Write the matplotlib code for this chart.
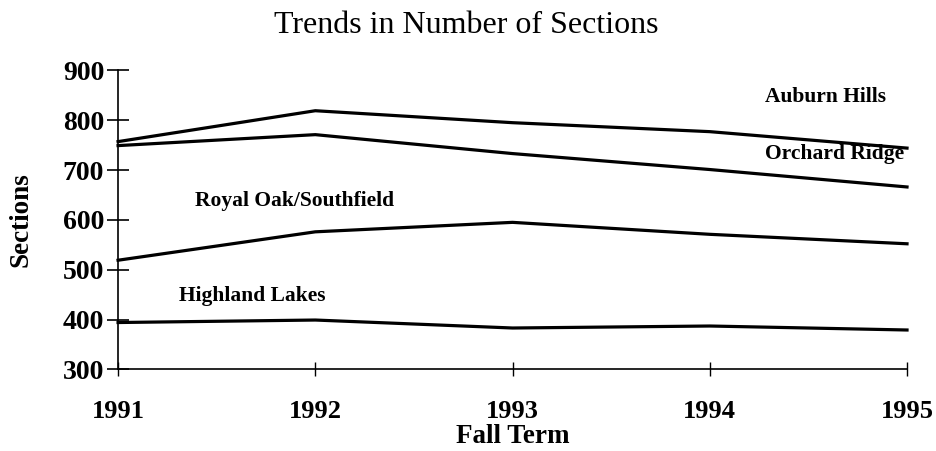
import matplotlib
matplotlib.use("Agg")
import matplotlib.pyplot as plt

years = [1991, 1992, 1993, 1994, 1995]
auburn_hills = [757, 819, 795, 777, 744]
orchard_ridge = [749, 771, 733, 701, 666]
royal_oak = [519, 576, 595, 571, 552]
highland_lakes = [394, 399, 383, 387, 379]

labels = ["Auburn Hills", "Orchard Ridge", "Royal Oak/Southfield", "Highland Lakes"]
label_pos = [(1994.28, 847), (1994.28, 733), (1991.39, 637), (1991.31, 447)]

plt.rcParams['font.family'] = ['Liberation Serif', 'DejaVu Serif']

fig = plt.figure(figsize=(9.37, 4.51), dpi=100)
ax = fig.add_axes([0.126, 0.181, 0.842, 0.663])

for ys in [auburn_hills, orchard_ridge, royal_oak, highland_lakes]:
    ax.plot(years, ys, color='black', lw=2.3, clip_on=False, solid_joinstyle='round')

for name, (x, y) in zip(labels, label_pos):
    ax.text(x, y, name, fontsize=15.5, fontweight='bold', va='center', ha='left')

ax.set_xlim(1991, 1995)
ax.set_ylim(300, 900)
ax.set_xticks(years)
ax.set_yticks(range(300, 901, 100))

for s in ['top', 'right']:
    ax.spines[s].set_visible(False)
for s in ['left', 'bottom']:
    ax.spines[s].set_linewidth(1.2)

ax.tick_params(axis='y', direction='inout', length=16, width=1.2, pad=2,
               labelsize=20)
ax.tick_params(axis='x', direction='inout', length=10, width=1.0, pad=17,
               labelsize=19)
for lab in ax.get_xticklabels() + ax.get_yticklabels():
    lab.set_fontweight('bold')

ax.set_ylabel("Sections", fontsize=19.5, fontweight='bold', labelpad=21)
ax.set_xlabel("Fall Term", fontsize=19.5, fontweight='bold', labelpad=1)
fig.suptitle("Trends in Number of Sections", fontsize=23, x=0.498, y=0.975)

fig.savefig("out.png", dpi=100)
